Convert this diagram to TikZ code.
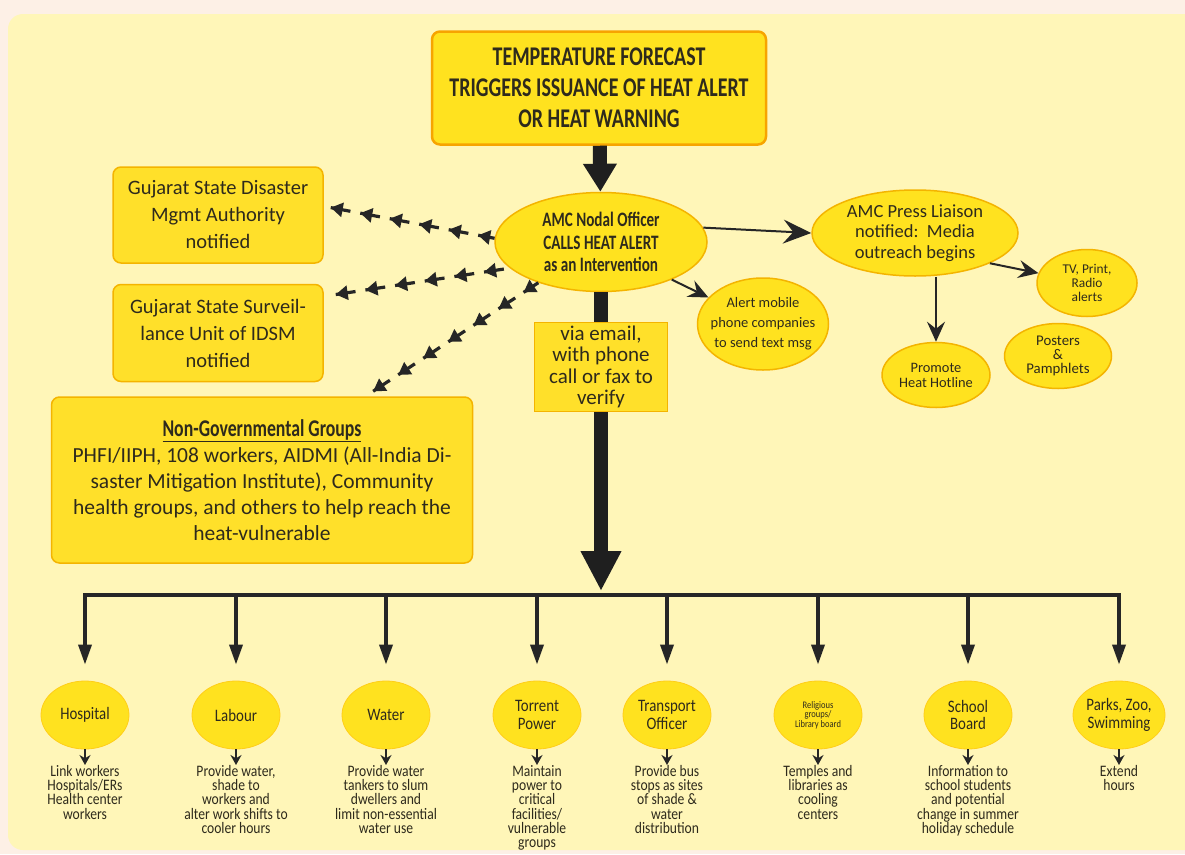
\documentclass[tikz,border=0pt]{standalone}
\usepackage{fontspec}
\setmainfont{Carlito}
\newfontfamily\condfont[FakeStretch=0.74]{Carlito}
\newfontfamily\narrowfont[FakeStretch=0.85]{Carlito}
\usepackage[HTML]{xcolor}
\usepackage{tikz}
\usetikzlibrary{positioning, arrows.meta, shapes.geometric, decorations.markings}

\definecolor{pagebg}{HTML}{FDF0E6}
\definecolor{panelbg}{HTML}{FFF6B8}
\definecolor{boxfill}{HTML}{FFE02A}
\definecolor{boxline}{HTML}{F4B400}
\definecolor{ovalfill}{HTML}{FFE21F}
\definecolor{ink}{HTML}{2E2A1C}

\begin{document}
\begin{tikzpicture}[x=1pt, y=-1pt,
  ybox/.style={draw=boxline, line width=1.5pt, fill=boxfill, rounded corners=8pt, text=ink, align=center, inner sep=0pt},
  yoval/.style={ellipse, draw=boxline, line width=1.5pt, fill=ovalfill, text=ink, align=center, inner sep=0pt},
  agency/.style={ellipse, fill=ovalfill, draw=ovalfill!80!orange, line width=0.8pt, text=ink, align=center, inner sep=0pt, minimum width=88pt, minimum height=68pt, font=\narrowfont\fontsize{17.5}{17.5}\selectfont},
  action/.style={text=ink, align=center, inner sep=0pt, anchor=north, font=\narrowfont\fontsize{16}{14.3}\selectfont},
  fat/.style={draw=black!88, line width=14pt},
  busline/.style={draw=black!85, line width=4pt, line cap=rect},
  drop/.style={draw=black!85, line width=3.5pt, -{Triangle[length=20pt,width=13pt]}, shorten >=16pt},
  tick/.style={draw=black!85, line width=2pt, -{Stealth[length=10pt,width=11pt]}},
  pointer/.style={draw=black!85, line width=2pt, -{Stealth[length=20pt,width=18pt,inset=7pt]}},
  % dashes run from the box back to the officer, each one headed at the box end
  dashback/.style={draw=black!85, line width=3.2pt, dash pattern=on 20pt off 10pt,
    decoration={markings, mark=between positions 0 and 1 step 30pt with {\arrowreversed{Triangle[length=12pt,width=14pt]}}},
    postaction={decorate}}]

\useasboundingbox (0,0) rectangle (1185,854);

% Background panel
\fill[pagebg] (0,0) rectangle (1185,854);
\fill[panelbg, rounded corners=15pt] (8,14) rectangle (1205,850);

% Trigger box and nodal officer
\node[ybox, draw=boxline!70!orange, line width=2.5pt, fill=ovalfill, minimum width=334pt, minimum height=113pt,
  font=\condfont\bfseries\fontsize{27}{31}\selectfont] (top) at (599,88)
  {TEMPERATURE FORECAST\\TRIGGERS ISSUANCE OF HEAT ALERT\\OR HEAT WARNING};
\node[yoval, minimum width=212pt, minimum height=99pt, font=\condfont\bfseries\fontsize{20.5}{22.5}\selectfont] (nodal) at (601,242)
  {AMC Nodal Officer\\CALLS HEAT ALERT\\as an Intervention};
\node[ybox, rounded corners=0pt, minimum width=133pt, minimum height=89pt, font=\fontsize{21}{21.5}\selectfont] (via) at (601,367)
  {via email,\\with phone\\call or fax to\\verify};

% Left: state and NGO boxes
\node[ybox, minimum width=210pt, minimum height=96pt, font=\fontsize{20.5}{27}\selectfont] (gsdma) at (218,215)
  {Gujarat State Disaster\\Mgmt Authority\\notified};
\node[ybox, minimum width=210pt, minimum height=97pt, font=\fontsize{20.5}{27}\selectfont] (gssu) at (218,333)
  {Gujarat State Surveil-\\lance Unit of IDSM\\notified};
\node[ybox, minimum width=421pt, minimum height=166pt, font=\fontsize{21.5}{26}\selectfont] (ngo) at (262,480)
  {{\condfont\bfseries\fontsize{24}{26}\selectfont\underline{Non-Governmental Groups}}\\
   PHFI/IIPH, 108 workers, AIDMI (All-India Di-\\saster Mitigation Institute), Community\\
   health groups, and others to help reach the\\heat-vulnerable};

% Right: media side
\node[yoval, minimum width=206pt, minimum height=86pt, font=\fontsize{18.5}{20.5}\selectfont] (press) at (915,233)
  {AMC Press Liaison\\notified:\ \ Media\\outreach begins};
\node[yoval, inner xsep=-6pt, minimum width=130pt, minimum height=92pt, font=\fontsize{14.5}{20}\selectfont] (mobile) at (763,324)
  {Alert mobile\\phone companies\\to send text msg};
\node[yoval, minimum width=108pt, minimum height=65pt, font=\fontsize{14.4}{15}\selectfont] (hotline) at (936,375)
  {Promote\\Heat Hotline};
\node[yoval, minimum width=100pt, minimum height=67pt, font=\fontsize{13.4}{14}\selectfont] (media) at (1087,283)
  {TV, Print,\\Radio\\alerts};
\node[yoval, minimum width=107pt, minimum height=65pt, font=\fontsize{14.8}{14}\selectfont] (posters) at (1058,356)
  {Posters\\\&\\Pamphlets};

% Bottom agencies
\node[agency] (hosp)   at (85,715)   {Hospital};
\node[agency] (labour) at (236,715)  {Labour};
\node[agency] (water)  at (386,715)  {Water};
\node[agency] (power)  at (537,715)  {Torrent\\Power};
\node[agency] (trans)  at (667,715)  {Transport\\Officer};
\node[agency, font=\narrowfont\fontsize{10}{9.5}\selectfont] (relig) at (818,715) {Religious\\groups/\\Library board};
\node[agency] (school) at (968,715)  {School\\Board};
\node[agency] (parks)  at (1119,715) {Parks, Zoo,\\Swimming};

% Actions under each agency
\node[action] (hosp-do)   at (85,765)   {Link workers\\Hospitals/ERs\\Health center\\workers};
\node[action] (labour-do) at (236,765)  {Provide water,\\shade to\\workers and\\alter work shifts to\\cooler hours};
\node[action] (water-do)  at (386,765)  {Provide water\\tankers to slum\\dwellers and\\limit non-essential\\water use};
\node[action] (power-do)  at (537,765)  {Maintain\\power to\\critical\\facilities/\\vulnerable\\groups};
\node[action] (trans-do)  at (667,765)  {Provide bus\\stops as sites\\of shade \&\\water\\distribution};
\node[action] (relig-do)  at (818,765)  {Temples and\\libraries as\\cooling\\centers};
\node[action] (school-do) at (968,765)  {Information to\\school students\\and potential\\change in summer\\holiday schedule};
\node[action] (parks-do)  at (1119,765) {Extend\\hours};

% Main spine
\coordinate (bus) at (601,595);
\draw[fat, -{Triangle[length=28pt,width=32pt]}] (top) -- (nodal);
\draw[fat] (nodal) -- (via);
\draw[fat, -{Triangle[length=40pt,width=38pt]}, shorten >=4pt] (via) -- (bus);

% Distribution bar and drops
\draw[busline] (hosp |- bus) -- (parks |- bus);
\draw[drop] (hosp |- bus) -- (hosp);
\draw[drop] (labour |- bus) -- (labour);
\draw[drop] (water |- bus) -- (water);
\draw[drop] (power |- bus) -- (power);
\draw[drop] (trans |- bus) -- (trans);
\draw[drop] (relig |- bus) -- (relig);
\draw[drop] (school |- bus) -- (school);
\draw[drop] (parks |- bus) -- (parks);

\draw[tick] (hosp) -- (hosp-do);
\draw[tick] (labour) -- (labour-do);
\draw[tick] (water) -- (water-do);
\draw[tick] (power) -- (power-do);
\draw[tick] (trans) -- (trans-do);
\draw[tick] (relig) -- (relig-do);
\draw[tick] (school) -- (school-do);
\draw[tick] (parks) -- (parks-do);

% Dashed notifications to the left
\draw[dashback] ([xshift=7pt]gsdma.4) -- (nodal.178);
\draw[dashback] ([xshift=12pt]gssu.20) -- (nodal.196);
\draw[dashback] ([yshift=5pt]ngo.37) -- (nodal.213);

% Media arrows
\draw[pointer, -{Stealth[length=28pt,width=24pt,inset=10pt]}] (nodal.8) -- (press.west);
\draw[pointer] (nodal.-28) -- (mobile);
\draw[pointer] (press.south -| hotline) -- (hotline);
\draw[pointer] (press.-22) -- (media);

\end{tikzpicture}
\end{document}
